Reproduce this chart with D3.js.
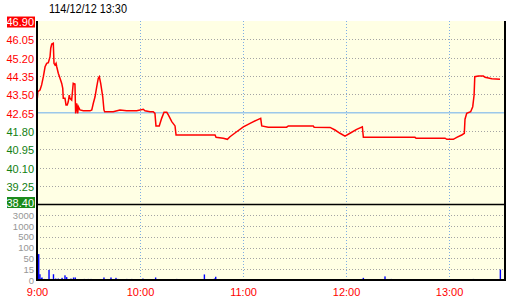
<!DOCTYPE html>
<html>
<head>
<meta charset="utf-8">
<script src="https://cdn.jsdelivr.net/npm/d3@7/dist/d3.min.js"></script>
<style>
  body { margin: 0; background: #fff; }
  svg { display: block; }
</style>
</head>
<body>
<div id="chart"></div>
<script>
// intraday price / volume data (minutes after 9:00)
const title = '114/12/12 13:30'
const refPrice = 42.65

const priceMinutes = [0.2, 0.5, 1.75, 2.7, 3.7, 4.7, 5.65, 6.6, 7.6, 8.0, 8.6, 9.5, 9.9, 10.5, 11.1, 11.5,
  12.4, 13.4, 14.4, 15.0, 15.3, 16.3, 16.9, 17.6, 18.2, 18.8, 19.2, 20.2, 21.1, 22.1, 22.5, 23.1,
  23.7, 24.1, 25.0, 27.0, 30.9, 31.9, 32.8, 33.8, 34.8, 35.7, 36.3, 37.1, 38.3, 39.0, 39.4, 44.4,
  48.3, 52.2, 58.1, 61.9, 62.9, 65.8, 67.7, 68.7, 69.3, 71.2, 72.6, 74.0, 75.6, 76.5, 78.5, 80.4,
  81.0, 103.7, 104.3, 108.5, 110.9, 112.4, 116.3, 120.2, 124.1, 128.0, 130.3, 130.9, 134.7, 145.4,
  146.4, 160.9, 161.4, 170.7, 173.6, 176.5, 179.4, 182.3, 186.2, 189.5, 190.1, 220.2, 220.8, 237.7,
  238.7, 242.5, 244.5, 247.4, 248.9, 249.3, 250.3, 252.6, 253.8, 254.6, 255.0, 257.1, 260.0, 261.0,
  264.9, 269.7]
const prices = [43.32, 43.63, 43.70, 43.94, 44.32, 44.78, 44.94, 44.97, 45.25, 45.64, 45.83, 45.87, 44.94, 44.86, 44.94, 44.78,
  44.48, 44.25, 44.01, 43.78, 43.32, 43.32, 43.01, 43.01, 43.16, 43.47, 43.32, 43.24, 44.01, 43.98, 42.62, 43.09,
  42.62, 42.93, 42.78, 42.74, 42.74, 42.78, 43.09, 43.39, 43.86, 44.25, 44.32, 44.01, 43.39, 42.78, 42.70, 42.70,
  42.78, 42.74, 42.74, 42.81, 42.74, 42.70, 42.70, 42.62, 42.04, 42.04, 42.39, 42.67, 42.67, 42.55, 42.24, 42.04,
  41.62, 41.62, 41.51, 41.47, 41.42, 41.54, 41.77, 42.00, 42.16, 42.31, 42.39, 42.04, 41.98, 41.98,
  42.04, 42.04, 41.98, 41.97, 41.85, 41.70, 41.57, 41.70, 41.88, 42.00, 41.51, 41.51, 41.47, 41.47,
  41.42, 41.42, 41.51, 41.62, 41.70, 42.35, 42.62, 42.70, 42.93, 43.47, 44.32, 44.35, 44.35, 44.29,
  44.23, 44.20]

const volMinutes = [1.0, 1.7, 2.5, 2.9, 4.3, 7.0, 8.2, 9.6, 10.9, 12.4, 14.6, 16.3, 17.3, 19.8, 21.3, 22.3,
  27.6, 29.9, 31.5, 39.0, 43.1, 46.0, 47.2, 52.3, 55.2, 61.7, 69.1, 81.4, 97.5, 103.4, 104.1,
  189.5, 190.1, 202.7, 206.4, 254.2, 269.9]
const volumes = [70, 8, 2.5, 3.5, 1.5, 14, 1.5, 8, 2, 2, 3, 6.5, 4, 2, 3.5, 3.5,
  1.5, 1.5, 1.5, 3.5, 3.5, 3, 1.5, 1.5, 1.5, 2, 3.5, 1.5, 7.7, 2, 4.5,
  1.5, 3, 5, 1.5, 1.5, 14.5]

const priceTicks = [46.90, 46.05, 45.20, 44.35, 43.50, 42.65, 41.80, 40.95, 40.10, 39.25, 38.40]
const volTicks = [0, 15, 50, 100, 500, 1000, 3000]
const volTickLabels = ['0', '15', '50', '100', '500', '1000', '3000']
const hourMinutes = [0, 60, 120, 180, 240]
const hourLabels = ['9:00', '10:00', '11:00', '12:00', '13:00']

const W = 520, H = 300
const box = {left: 37, right: 505, top: 21, sep: 204.5, bottom: 280}

const svg = d3.select('#chart').append('svg')
  .attr('width', W)
  .attr('height', H)

const x = d3.scaleLinear().domain([0, 272.6]).range([box.left, box.right])
const y = d3.scaleLinear().domain([38.40, 46.90]).range([box.sep, box.top])
// volume axis is stepped: every level gets the same height
const vy = d3.scaleLinear()
  .domain(volTicks)
  .range(volTicks.map((d, i) => box.bottom - i * 10.8))
  .clamp(true)

// panel background
svg.append('rect')
  .attr('x', box.left).attr('y', box.top)
  .attr('width', box.right - box.left).attr('height', box.bottom - box.top)
  .attr('fill', '#ffffe4')

// horizontal grid, price panel
svg.append('g')
  .selectAll('line')
  .data(priceTicks.filter(d => d < 46.9 && d > 38.4 && d !== refPrice))
  .join('line')
  .attr('x1', box.left).attr('x2', box.right)
  .attr('y1', d => Math.round(y(d)) + 0.5).attr('y2', d => Math.round(y(d)) + 0.5)
  .attr('stroke', '#a4a4a4')
  .attr('stroke-dasharray', '1,2')

// horizontal grid, volume panel
svg.append('g')
  .selectAll('line')
  .data(volTicks.filter(d => d > 0))
  .join('line')
  .attr('x1', box.left).attr('x2', box.right)
  .attr('y1', d => Math.round(vy(d)) + 0.5).attr('y2', d => Math.round(vy(d)) + 0.5)
  .attr('stroke', '#a4a4a4')
  .attr('stroke-dasharray', '1,2')

// vertical hour grid
svg.append('g')
  .selectAll('line')
  .data(hourMinutes.filter(d => d > 0))
  .join('line')
  .attr('x1', d => Math.round(x(d)) + 0.5).attr('x2', d => Math.round(x(d)) + 0.5)
  .attr('y1', box.top).attr('y2', box.bottom)
  .attr('stroke', '#7eaee4')
  .attr('stroke-dasharray', '1,2')

// reference (previous close) line
svg.append('line')
  .attr('x1', box.left).attr('x2', box.right)
  .attr('y1', y(refPrice)).attr('y2', y(refPrice))
  .attr('stroke', '#9cc8ea')
  .attr('stroke-width', 1.5)

// volume bars
svg.append('g')
  .selectAll('rect')
  .data(volMinutes.map((m, i) => ({m: m, v: volumes[i]})))
  .join('rect')
  .attr('x', d => x(d.m) - 0.7)
  .attr('width', 1.4)
  .attr('y', d => vy(d.v))
  .attr('height', d => box.bottom - vy(d.v))
  .attr('fill', '#0000ff')

// price line
const line = d3.line()
  .x(d => x(d.m))
  .y(d => y(d.p))

svg.append('path')
  .datum(priceMinutes.map((m, i) => ({m: m, p: prices[i]})))
  .attr('fill', 'none')
  .attr('stroke', '#ff0000')
  .attr('stroke-width', 1.5)
  .attr('d', line)

// frame lines
svg.append('line').attr('x1', box.left).attr('x2', box.right).attr('y1', box.sep).attr('y2', box.sep)
  .attr('stroke', '#000').attr('stroke-width', 1.5)
svg.append('line').attr('x1', box.left - 1).attr('x2', box.right + 1).attr('y1', box.bottom).attr('y2', box.bottom)
  .attr('stroke', '#000').attr('stroke-width', 2)
svg.append('line').attr('x1', box.left).attr('x2', box.left).attr('y1', box.top).attr('y2', box.bottom)
  .attr('stroke', '#000').attr('stroke-width', 2)
svg.append('line').attr('x1', box.right).attr('x2', box.right).attr('y1', box.top).attr('y2', box.bottom)
  .attr('stroke', '#000').attr('stroke-width', 2)

// price axis
const priceColor = d => d === 46.90 ? '#fff' : d === 38.40 ? '#fff' : d >= refPrice ? '#ff0000' : '#128012'
const yAxis = svg.append('g')
  .attr('transform', `translate(${box.left},1)`)
  .call(d3.axisLeft(y).tickValues(priceTicks).tickFormat(d3.format('.2f')).tickSize(0).tickPadding(3))
yAxis.select('.domain').remove()
yAxis.selectAll('text')
  .attr('font-family', '"Liberation Sans", Arial, sans-serif')
  .attr('font-size', 11)
  .attr('fill', priceColor)
// lift the bottom label above the divider
yAxis.selectAll('.tick').filter(d => d === 38.40).select('text').attr('y', -3)
yAxis.selectAll('.tick').each(function (d) {
  if (d !== 46.90 && d !== 38.40) return
  const t = d3.select(this).select('text')
  const b = t.node().getBBox()
  d3.select(this).insert('rect', 'text')
    .attr('x', -30).attr('y', b.y + 0.5)
    .attr('width', 28).attr('height', b.height - 1)
    .attr('fill', d === 46.90 ? '#ff0000' : '#1a8a1a')
})

// volume axis
const vAxis = svg.append('g')
  .attr('transform', `translate(${box.left},0)`)
  .call(d3.axisLeft(vy).tickValues(volTicks).tickFormat((d, i) => volTickLabels[i]).tickSize(0).tickPadding(3))
vAxis.select('.domain').remove()
vAxis.selectAll('text')
  .attr('font-family', '"Liberation Sans", Arial, sans-serif')
  .attr('font-size', 9.5)
  .attr('fill', '#969696')

// time axis
const xAxis = svg.append('g')
  .attr('transform', `translate(0,${box.bottom})`)
  .call(d3.axisBottom(x).tickValues(hourMinutes).tickFormat((d, i) => hourLabels[i]).tickSize(0).tickPadding(8))
xAxis.select('.domain').remove()
xAxis.selectAll('text')
  .attr('font-family', '"Liberation Sans", Arial, sans-serif')
  .attr('font-size', 11)
  .attr('fill', '#ff0000')

// title (narrow font in the original, so squeeze to its width)
svg.append('text')
  .attr('x', 49)
  .attr('y', 13)
  .attr('font-family', '"Liberation Sans", Arial, sans-serif')
  .attr('font-size', 13)
  .attr('textLength', 78)
  .attr('lengthAdjust', 'spacingAndGlyphs')
  .attr('fill', '#000')
  .text(title)
</script>
</body>
</html>
